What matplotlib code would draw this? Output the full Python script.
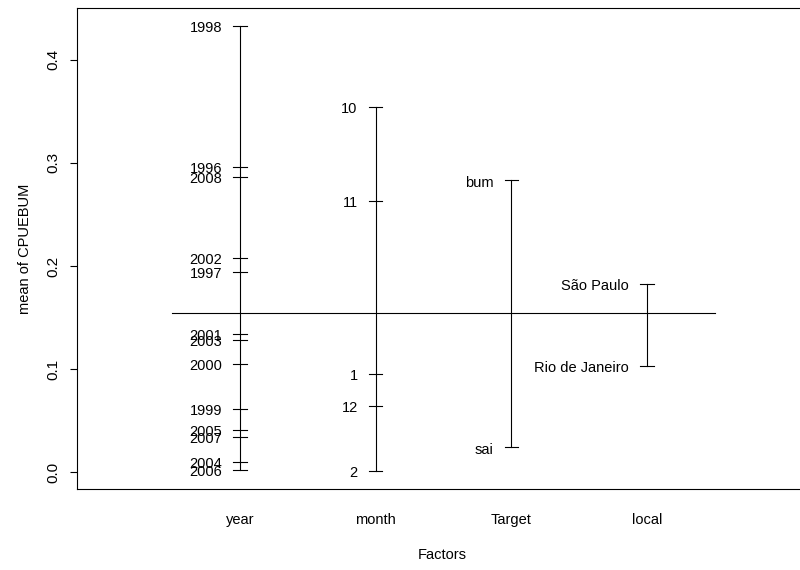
import matplotlib.pyplot as plt
import numpy as np

plt.rcParams['font.family'] = ['Liberation Sans', 'DejaVu Sans']

# factor names and the level means
factors = ['year', 'month', 'Target', 'local']

year_levels = ['1998', '1996', '2008', '2002', '1997', '2001', '2003',
               '2000', '1999', '2005', '2007', '2004', '2006']
year_means = [0.433, 0.296, 0.286, 0.208, 0.194, 0.134, 0.128,
              0.105, 0.061, 0.041, 0.034, 0.010, 0.002]

month_levels = ['10', '11', '1', '12', '2']
month_means = [0.354, 0.263, 0.095, 0.064, 0.001]

target_levels = ['bum', 'sai']
target_means = [0.283, 0.024]

local_levels = ['São Paulo', 'Rio de Janeiro']
local_means = [0.183, 0.103]

grand_mean = 0.154

level_names = [year_levels, month_levels, target_levels, local_levels]
level_means = [year_means, month_means, target_means, local_means]

fig = plt.figure(figsize=(8, 5.7), dpi=100)
ax = fig.add_axes([77 / 800, 81 / 570, 733 / 800, 481 / 570])

# horizontal line at the overall mean
ax.plot([0.5, len(factors) + 0.5], [grand_mean, grand_mean], color='black', lw=0.8)

for i, (names, means) in enumerate(zip(level_names, level_means), start=1):
    means = np.array(means)
    ax.plot([i, i], [means.min(), means.max()], color='black', lw=0.8)
    for name, m in zip(names, means):
        ax.plot([i - 0.05, i + 0.05], [m, m], color='black', lw=0.8)
        ax.annotate(name, (i - 0.05, m), xytext=(-8, -1.5),
                    textcoords='offset points', ha='right', va='center',
                    fontsize=10.5)

# R style ranges: x from 0 to n+1, y over the data, both padded by 4 %
all_means = np.concatenate([np.array(m) for m in level_means])
lo, hi = all_means.min(), all_means.max()
pad = 0.04 * (hi - lo)
ax.set_ylim(lo - pad, hi + pad)
ax.set_xlim(-0.2, len(factors) + 1.2)

ax.set_xticks(range(1, len(factors) + 1))
ax.set_xticklabels(factors, fontsize=10.5)
ax.tick_params(axis='x', length=0, pad=17)
ax.set_yticks([0.0, 0.1, 0.2, 0.3, 0.4])
ax.set_yticklabels(['0.0', '0.1', '0.2', '0.3', '0.4'], rotation=90,
                   va='center', fontsize=11)
ax.tick_params(axis='y', length=5, width=0.8, pad=7, direction='out')

for side in ['left', 'bottom', 'top', 'right']:
    ax.spines[side].set_linewidth(0.8)

fig.text(442 / 800, 1 - 555 / 570, 'Factors', ha='center', va='center', fontsize=10.5)
fig.text(25 / 800, 1 - 249 / 570, 'mean of CPUEBUM', ha='center', va='center',
         rotation=90, fontsize=10.5)

fig.savefig('out.png', dpi=100)
